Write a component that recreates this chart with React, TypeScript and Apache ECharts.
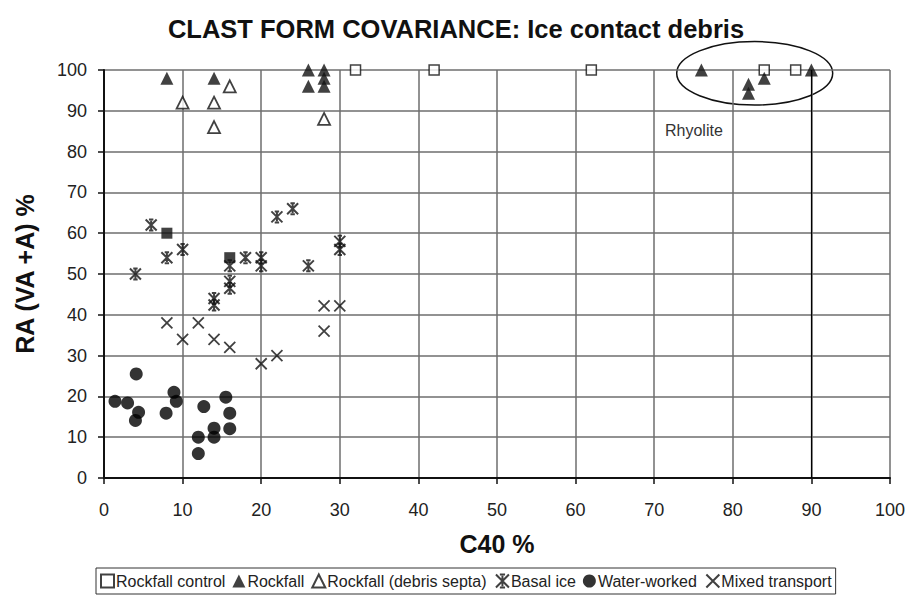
import React, { useEffect, useRef } from "react";
import * as echarts from "echarts";

const xTicks = [0, 10, 20, 30, 40, 50, 60, 70, 80, 90, 100];
const yTicks = [0, 10, 20, 30, 40, 50, 60, 70, 80, 90, 100];

const rockfallControl: [number, number][] = [
  [32, 100], [42, 100], [62, 100], [84, 100], [88, 100],
];
const rockfallControlFilled: [number, number][] = [
  [8, 60], [16, 54],
];
const rockfall: [number, number][] = [
  [8, 98], [14, 98], [26, 100], [26, 96], [28, 100], [28, 98], [28, 96],
  [76, 100], [82, 96.5], [82, 94.3], [84, 98], [90, 100],
];
const rockfallSepta: [number, number][] = [
  [10, 92], [14, 92], [14, 86], [16, 96], [28, 88],
];
const basalIce: [number, number][] = [
  [4, 50], [6, 62], [8, 54], [10, 56], [14, 44], [14, 42.4], [16, 52],
  [16, 48.2], [16, 46.5], [18, 54], [20, 54], [20, 52], [22, 64], [24, 66],
  [26, 52], [30, 58], [30, 56],
];
const waterWorked: [number, number][] = [
  [1.4, 18.8], [3, 18.4], [4.1, 25.5], [4.4, 16.1], [4, 14.1], [8.9, 21],
  [9.2, 18.8], [7.9, 15.9], [12.7, 17.5], [15.5, 19.8], [16, 15.9], [16, 12.1],
  [14, 12.2], [14, 10], [12, 10], [12, 6],
];
const mixedTransport: [number, number][] = [
  [8, 38], [10, 34], [12, 38], [14, 34], [16, 32], [20, 28], [22, 30],
  [28, 42.2], [30, 42.2], [28, 36],
];

const basalIcePath =
  "path://M0,0 L10,10 M10,0 L0,10 M5,1 L5,9 M3,0 L7,0 M3,10 L7,10";
const crossPath = "path://M0,0 L10,10 M10,0 L0,10";

export default function App() {
  const ref = useRef<HTMLDivElement>(null);
  useEffect(() => {
    if (!ref.current) return;
    const chart = echarts.init(ref.current, undefined, { renderer: "svg" });
    const font = "Arial, 'Liberation Sans', sans-serif";
    chart.setOption({
      animation: false,
      backgroundColor: "#fff",
      textStyle: { fontFamily: font },
      title: {
        text: "CLAST FORM COVARIANCE: Ice contact debris",
        left: "center",
        top: 11,
        textStyle: { fontSize: 25.5, fontWeight: "bold", color: "#111", fontFamily: font },
      },
      grid: { left: 104, right: 22, top: 70, bottom: 123 },
      xAxis: {
        type: "value",
        min: xTicks[0],
        max: xTicks[xTicks.length - 1],
        interval: 10,
        name: "C40 %",
        nameLocation: "middle",
        nameGap: 53,
        nameMoveOverlap: false,
        nameTextStyle: { fontSize: 25, fontWeight: "bold", color: "#111" },
        axisLine: { show: true, lineStyle: { color: "#111", width: 2 } },
        axisTick: { show: true, length: 6, lineStyle: { color: "#111", width: 1.5 } },
        axisLabel: { fontSize: 18, color: "#222", margin: 23 },
        splitLine: { show: true, lineStyle: { color: "#6e6e6e", width: 1.5 } },
      },
      yAxis: {
        type: "value",
        min: yTicks[0],
        max: yTicks[yTicks.length - 1],
        interval: 10,
        name: "RA (VA +A) %",
        nameLocation: "middle",
        nameGap: 67,
        nameTextStyle: { fontSize: 25, fontWeight: "bold", color: "#111" },
        axisLine: { show: true, lineStyle: { color: "#111", width: 2 } },
        axisTick: { show: true, length: 6, lineStyle: { color: "#111", width: 1.5 } },
        axisLabel: { fontSize: 18, color: "#222", margin: 17 },
        splitLine: { show: true, lineStyle: { color: "#6e6e6e", width: 1.5 } },
      },
      legend: {
        bottom: 7,
        left: 96,
        data: [
          "Rockfall control",
          "Rockfall",
          "Rockfall (debris septa)",
          "Basal ice",
          "Water-worked",
          "Mixed transport",
        ],
        borderColor: "#333",
        borderWidth: 1,
        borderRadius: 0,
        padding: [4, 4],
        itemGap: 7,
        itemWidth: 13,
        itemHeight: 13,
        textStyle: { fontSize: 16, color: "#222", padding: [0, 0, 0, -3] },
      },
      graphic: [
        {
          type: "ellipse",
          shape: { cx: 754.7, cy: 73.3, rx: 78, ry: 31.7 },
          style: { fill: "none", stroke: "#111", lineWidth: 1.5 },
          silent: true,
        },
        {
          type: "text",
          x: 665,
          y: 130,
          style: {
            text: "Rhyolite",
            fontSize: 16,
            fill: "#333",
            fontFamily: font,
            verticalAlign: "middle",
          },
        },
      ],
      series: [
        {
          name: "Rockfall control",
          type: "scatter",
          data: rockfallControl,
          symbol: "rect",
          symbolSize: 10,
          itemStyle: { color: "#fff", borderColor: "#111", borderWidth: 1.5 },
          z: 3,
          markLine: {
            silent: true,
            symbol: ["none", "none"],
            label: { show: false },
            lineStyle: { color: "#000", width: 1.2, type: "solid" },
            data: [{ xAxis: 90 }],
          },
        },
        {
          name: "Rockfall control filled",
          type: "scatter",
          data: rockfallControlFilled,
          symbol: "rect",
          symbolSize: 11,
          itemStyle: { color: "#111" },
          z: 3,
        },
        {
          name: "Rockfall",
          type: "scatter",
          data: rockfall,
          symbol: "triangle",
          symbolSize: 13,
          itemStyle: { color: "#111" },
          z: 4,
        },
        {
          name: "Rockfall (debris septa)",
          type: "scatter",
          data: rockfallSepta,
          symbol: "triangle",
          symbolSize: 12,
          itemStyle: { color: "#fff", borderColor: "#111", borderWidth: 1.8 },
          z: 3,
        },
        {
          name: "Basal ice",
          type: "scatter",
          data: basalIce,
          symbol: basalIcePath,
          symbolSize: 11,
          itemStyle: { color: "none", borderColor: "#111", borderWidth: 2 },
          z: 3,
        },
        {
          name: "Water-worked",
          type: "scatter",
          data: waterWorked,
          symbol: "circle",
          symbolSize: 13,
          itemStyle: { color: "#000" },
          z: 3,
        },
        {
          name: "Mixed transport",
          type: "scatter",
          data: mixedTransport,
          symbol: crossPath,
          symbolSize: 11,
          itemStyle: { color: "none", borderColor: "#111", borderWidth: 1.8 },
          z: 3,
        },
      ],
    });
    return () => chart.dispose();
  }, []);
  return (
    <div
      ref={ref}
      style={{ position: "absolute", left: 0, top: 0, width: 912, height: 601 }}
    />
  );
}
